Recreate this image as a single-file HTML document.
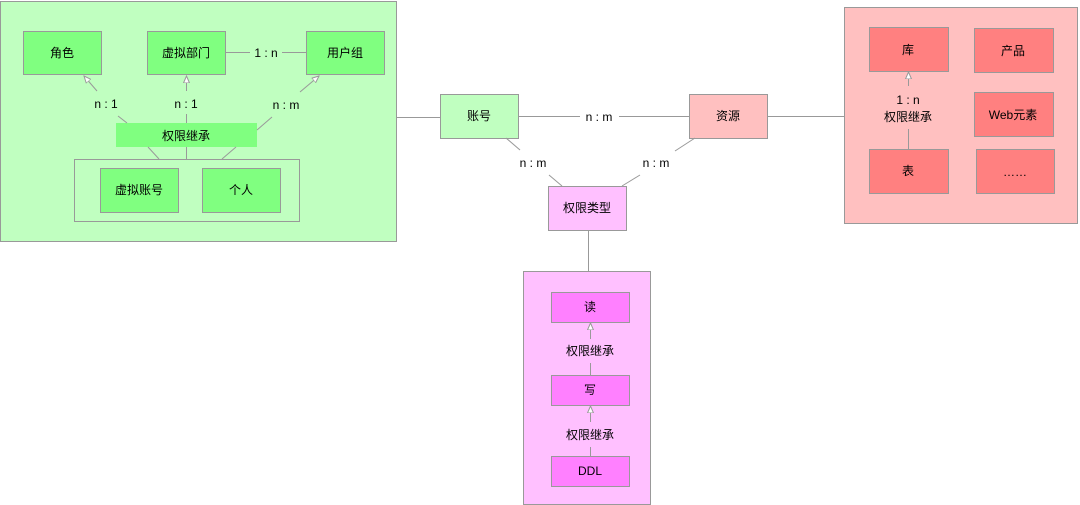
<!DOCTYPE html>
<html><head><meta charset="utf-8"><style>
html,body{margin:0;padding:0;background:#fff;}
svg{display:block;}
text{font-family:"Liberation Sans","Noto Sans CJK SC",sans-serif;font-size:12px;fill:#000;text-anchor:middle;dominant-baseline:central;}
</style></head><body>
<svg width="1080" height="505" viewBox="0 0 1080 505" xmlns="http://www.w3.org/2000/svg">
<defs>
<marker id="ar" markerWidth="8" markerHeight="8" refX="7" refY="4" orient="auto" markerUnits="userSpaceOnUse">
<path d="M0,1 L7,4 L0,7 Z" fill="#fff" stroke="#999" stroke-width="1"/>
</marker>
</defs>
<g stroke="#999" stroke-width="1">
<!-- green container -->
<rect x="0.5" y="1.5" width="396" height="240" fill="#c0ffc0"/>
<rect x="23.5" y="31.5" width="78" height="43" fill="#80ff80"/>
<rect x="147.5" y="31.5" width="78" height="43" fill="#80ff80"/>
<rect x="306.5" y="31.5" width="78" height="43" fill="#80ff80"/>
<rect x="74.5" y="159.5" width="225" height="62" fill="none"/>
<rect x="100.5" y="168.5" width="78" height="44" fill="#80ff80"/>
<rect x="202.5" y="168.5" width="78" height="44" fill="#80ff80"/>
<!-- red container -->
<rect x="844.5" y="7.5" width="233" height="216" fill="#ffc0c0"/>
<rect x="869.5" y="27.5" width="79" height="44" fill="#ff8080"/>
<rect x="974.5" y="28.5" width="79" height="44" fill="#ff8080"/>
<rect x="974.5" y="92.5" width="79" height="44" fill="#ff8080"/>
<rect x="869.5" y="149.5" width="79" height="44" fill="#ff8080"/>
<rect x="976.5" y="149.5" width="78" height="44" fill="#ff8080"/>
<!-- middle -->
<rect x="440.5" y="94.5" width="78" height="44" fill="#c0ffc0"/>
<rect x="689.5" y="94.5" width="78" height="44" fill="#ffc0c0"/>
<rect x="548.5" y="186.5" width="78" height="44" fill="#ffc0ff"/>
<rect x="523.5" y="271.5" width="127" height="233" fill="#ffc0ff"/>
<rect x="551.5" y="292.5" width="78" height="30" fill="#ff80ff"/>
<rect x="551.5" y="375.5" width="78" height="30" fill="#ff80ff"/>
<rect x="551.5" y="456.5" width="78" height="30" fill="#ff80ff"/>
</g>
<rect x="116" y="123" width="141" height="24" fill="#80ff80"/>
<g stroke="#999" stroke-width="1" fill="none">
<!-- green lines -->
<line x1="226" y1="52.5" x2="250" y2="52.5"/><line x1="282" y1="52.5" x2="306" y2="52.5"/>
<line x1="127" y1="123" x2="118" y2="116"/><line x1="97" y1="91" x2="84" y2="76" marker-end="url(#ar)"/>
<line x1="186.5" y1="123" x2="186.5" y2="114"/><line x1="186.5" y1="91" x2="186.5" y2="76" marker-end="url(#ar)"/>
<line x1="257" y1="130" x2="272" y2="117"/><line x1="300" y1="92" x2="319" y2="76" marker-end="url(#ar)"/>
<line x1="148" y1="147" x2="159" y2="159"/><line x1="186.5" y1="147" x2="186.5" y2="159"/><line x1="236" y1="147" x2="222" y2="159"/>
<line x1="397" y1="117.5" x2="440" y2="117.5"/>
<!-- middle lines -->
<line x1="519" y1="116.5" x2="580" y2="116.5"/><line x1="619" y1="116.5" x2="689" y2="116.5"/>
<line x1="506" y1="138" x2="520" y2="150"/><line x1="549" y1="175" x2="562" y2="186"/>
<line x1="695" y1="138" x2="675" y2="151"/><line x1="640" y1="175" x2="622" y2="186"/>
<line x1="768" y1="116.5" x2="844" y2="116.5"/>
<line x1="588.5" y1="230" x2="588.5" y2="271"/>
<!-- red -->
<line x1="908.5" y1="149" x2="908.5" y2="129"/><line x1="908.5" y1="86" x2="908.5" y2="72" marker-end="url(#ar)"/>
<!-- magenta -->
<line x1="590.5" y1="339" x2="590.5" y2="323" marker-end="url(#ar)"/><line x1="590.5" y1="375" x2="590.5" y2="363"/>
<line x1="590.5" y1="422" x2="590.5" y2="406" marker-end="url(#ar)"/><line x1="590.5" y1="456" x2="590.5" y2="447"/>
</g>
<text x="62" y="53">角色</text>
<text x="186" y="53">虚拟部门</text>
<text x="345" y="53">用户组</text>
<text x="266" y="53">1 : n</text>
<text x="106" y="104">n : 1</text>
<text x="186" y="104">n : 1</text>
<text x="286" y="105">n : m</text>
<text x="186" y="136">权限继承</text>
<text x="139" y="190">虚拟账号</text>
<text x="241" y="190">个人</text>
<text x="479" y="116">账号</text>
<text x="728" y="116">资源</text>
<text x="599" y="117">n : m</text>
<text x="533" y="163">n : m</text>
<text x="656" y="163">n : m</text>
<text x="587" y="208">权限类型</text>
<text x="908" y="50">库</text>
<text x="1013" y="51">产品</text>
<text x="1013" y="115">Web元素</text>
<text x="908" y="171">表</text>
<text x="1015" y="172">……</text>
<text x="908" y="100">1 : n</text>
<text x="908" y="117">权限继承</text>
<text x="590" y="307">读</text>
<text x="590" y="390">写</text>
<text x="590" y="471">DDL</text>
<text x="590" y="351">权限继承</text>
<text x="590" y="435">权限继承</text>
</svg>
</body></html>
